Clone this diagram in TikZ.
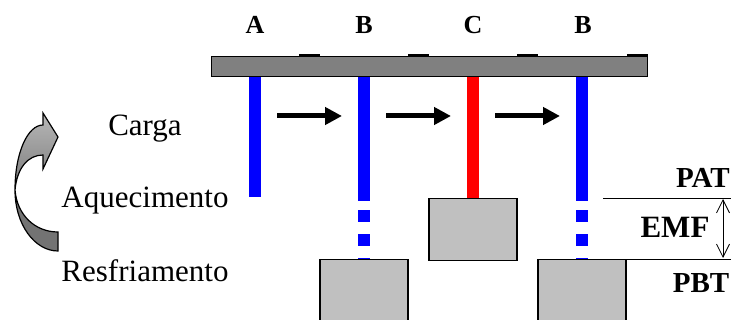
\documentclass[tikz,border=0pt]{standalone}
\usepackage{fontspec}
\setmainfont{Liberation Serif}
\usetikzlibrary{arrows.meta}
\definecolor{silver}{HTML}{C0C0C0}
\definecolor{beamgray}{HTML}{808080}
\begin{document}
\begin{tikzpicture}[x=1pt,y=-1pt,
  rod/.style={line width=12pt},
  dipped/.style={dash pattern=on 124pt off 9pt on 12pt off 12pt on 12pt off 12pt on 12pt off 12pt},
  tank/.style={draw,line width=1.3pt,fill=silver,minimum width=88pt,minimum height=62pt,anchor=north,inner sep=0pt},
  rack/.style={font=\fontsize{26}{30}\selectfont\bfseries,inner sep=0pt,anchor=base},
  level/.style={font=\fontsize{29}{33}\selectfont\bfseries,inner sep=0pt,anchor=base},
  stage/.style={font=\fontsize{31}{36}\selectfont,inner sep=0pt,anchor=base},
  move/.style={line width=5pt,-{Triangle[length=17pt,width=17pt]}}]

\useasboundingbox (0,0) rectangle (731,320);

% beam with the rods
\node[draw,line width=1.3pt,fill=beamgray,minimum width=436pt,minimum height=20pt,inner sep=0pt,anchor=north west] (beam) at (211,56) {};
\foreach \a in {299,408,517,627} {\draw[line width=1.3pt] (\a,55) -- (\a+21,55);}

\node[rack] (lA) at (255,34) {A};
\node[rack] (lB1) at (364,34) {B};
\node[rack] (lC) at (473,34) {C};
\node[rack] (lB2) at (583,34) {B};

\node[tank] (tB1) at (364,259) {};
\node[tank] (tC) at (473,198) {};
\node[tank] (tB2) at (582,259) {};

\coordinate (endA) at (255,197);
\draw[rod,blue] (endA |- beam.south) -- (endA);
\draw[rod,red] (tC.north |- beam.south) -- (tC.north);
\draw[rod,blue,dipped] (tB1.north |- beam.south) -- (tB1.north);
\draw[rod,blue,dipped] (tB2.north |- beam.south) -- (tB2.north);

\foreach \a in {277,386,495} {\draw[move] (\a,116) -- (\a+65,116);}

% cycle
\node[stage] (carga) at (145,136) {Carga};
\node[stage] (aquec) at (145,208) {Aquecimento};
\node[stage] (resfr) at (145,282) {Resfriamento};

\draw[line width=1.2pt,fill=black!55] (15,190) .. controls (15,225) and (35,251) .. (58,251) -- (58,232) .. controls (35,232) and (17,215) .. (15,190) -- cycle;
\draw[line width=1.2pt,top color=black!28,bottom color=black!52] (15,190) .. controls (15,152) and (28,125) .. (43,125) -- (43,113) -- (58,137) -- (43,169) -- (43,155) .. controls (28,155) and (17,168) .. (15,190) -- cycle;

% levels
\coordinate (pat) at (603,198);
\coordinate (pbt) at (626,259);
\draw[line width=0.9pt] (pat) -- (731,198);
\draw[line width=0.9pt] (pbt) -- (731,259);
\draw[line width=0.8pt,{Straight Barb[length=13pt,width=13pt]}-{Straight Barb[length=13pt,width=13pt]}] (723,199) -- (723,258);
\node[level,anchor=base east] (PAT) at (730,188) {PAT};
\node[level,font=\fontsize{31}{35}\selectfont\bfseries] (EMF) at (675,238) {EMF};
\node[level] (PBT) at (701,293) {PBT};

\end{tikzpicture}
\end{document}
